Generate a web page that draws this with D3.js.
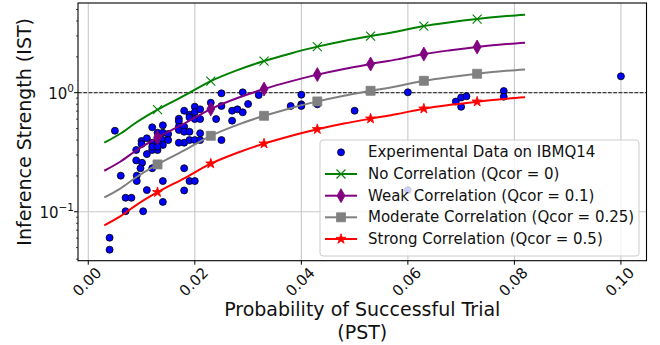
<!DOCTYPE html>
<html><head><meta charset="utf-8">
<script src="https://cdn.jsdelivr.net/npm/d3@7"></script>
<style>body{margin:0;background:#fff;} svg{display:block;font-family:"DejaVu Sans",sans-serif;}</style>
</head><body><svg id="c" width="660" height="345"></svg>
<script>
// Experimental data (PST, IST)
const expX = [0.0050,0.0061,0.0070,0.0081,0.0070,0.0103,0.0091,0.0091,0.0090,0.0101,0.0098,0.0090,0.0100,0.0100,0.0110,0.0110,0.0110,0.0120,0.0120,0.0120,0.0130,0.0120,0.0130,0.0140,0.0140,0.0150,0.0140,0.0150,0.0140,0.0130,0.0140,0.0140,0.0170,0.0170,0.0170,0.0170,0.0180,0.0180,0.0180,0.0180,0.0180,0.0190,0.0190,0.0190,0.0190,0.0170,0.0190,0.0200,0.0180,0.0200,0.0200,0.0200,0.0200,0.0210,0.0210,0.0210,0.0210,0.0230,0.0240,0.0250,0.0250,0.0250,0.0270,0.0280,0.0270,0.0290,0.0290,0.0300,0.0320,0.0380,0.0400,0.0400,0.0400,0.0430,0.0500,0.0600,0.0600,0.0690,0.0700,0.0710,0.0700,0.0780,0.0780,0.1000,0.0040,0.0040,0.0120,0.0130];
const expY = [0.479,0.201,0.131,0.131,0.101,0.101,0.201,0.181,0.270,0.258,0.232,0.330,0.393,0.371,0.414,0.305,0.152,0.512,0.380,0.330,0.330,0.232,0.461,0.461,0.532,0.450,0.400,0.400,0.364,0.380,0.181,0.121,0.605,0.575,0.518,0.486,0.706,0.518,0.470,0.380,0.232,0.653,0.621,0.470,0.400,0.380,0.181,0.181,0.151,0.763,0.688,0.601,0.400,0.725,0.601,0.456,0.400,0.824,0.601,0.988,0.773,0.400,0.706,0.725,0.582,0.684,1.007,0.804,0.956,0.773,0.962,0.799,0.773,0.799,0.706,1.008,0.152,0.843,0.911,0.933,0.761,1.033,0.926,1.373,0.0605,0.048,0.352,0.352];

// Model curves
const curveX = [0.003,0.006,0.009,0.013,0.018,0.023,0.028,0.033,0.038,0.043,0.048,0.053,0.058,0.063,0.068,0.073,0.078,0.082];
const noCorr = [0.380,0.452,0.562,0.721,0.944,1.253,1.549,1.845,2.138,2.438,2.723,2.992,3.273,3.631,3.908,4.159,4.385,4.519];
const weakCorr = [0.221,0.263,0.327,0.420,0.550,0.729,0.902,1.074,1.245,1.419,1.585,1.742,1.905,2.113,2.275,2.421,2.553,2.630];
const modCorr = [0.1318,0.1567,0.1950,0.2500,0.3273,0.4345,0.5370,0.6397,0.7413,0.8453,0.9441,1.0375,1.1350,1.2589,1.3552,1.4421,1.5205,1.5668];
const strongCorr = [0.0769,0.0914,0.1138,0.1459,0.1910,0.2535,0.3133,0.3733,0.4325,0.4932,0.5508,0.6053,0.6622,0.7345,0.7907,0.8414,0.8872,0.9141];
const markerX = [0.013,0.023,0.033,0.043,0.053,0.063,0.073];

const seriesNames = ["No Correlation (Qcor = 0)","Weak Correlation (Qcor = 0.1)","Moderate Correlation (Qcor = 0.25)","Strong Correlation (Qcor = 0.5)"];
const expName = "Experimental Data on IBMQ14";
const xTicks = [0,0.02,0.04,0.06,0.08,0.10];
const xTickLabels = ["0.00","0.02","0.04","0.06","0.08","0.10"];
const yTicks = [0.1,1];
const yTickExp = ["\u22121","0"];
const xLabel = ["Probability of Successful Trial","(PST)"];
const yLabel = "Inference Strength (IST)";

const L=78, R=646.5, T=3, B=260.7;
const TXT = "#111";
const svg = d3.select("#c");
const x = d3.scaleLinear().domain([-0.00193,0.1048]).range([L,R]);
const y = d3.scaleLog().domain([0.0388,5.67]).range([B,T]);

svg.append("defs").append("clipPath").attr("id","clip").append("rect")
  .attr("x",L).attr("y",T).attr("width",R-L).attr("height",B-T);

// grid
const grid = svg.append("g").attr("stroke","#c8c8c8").attr("stroke-width",1.1);
xTicks.forEach(t=>grid.append("line").attr("x1",x(t)).attr("x2",x(t)).attr("y1",T).attr("y2",B));
yTicks.forEach(t=>grid.append("line").attr("x1",L).attr("x2",R).attr("y1",y(t)).attr("y2",y(t)));

// dashed reference line at IST = 1
svg.append("line").attr("x1",L).attr("x2",R).attr("y1",y(1)).attr("y2",y(1))
  .attr("stroke","#000").attr("stroke-width",0.9).attr("stroke-dasharray","3.7,1.6");

const plot = svg.append("g").attr("clip-path","url(#clip)");

// scatter
plot.selectAll("circle.exp").data(expX.map((d,i)=>[d,expY[i]])).join("circle")
  .attr("class","exp").attr("cx",d=>x(d[0])).attr("cy",d=>y(d[1])).attr("r",3.5)
  .attr("fill","#0000ff").attr("stroke","#000").attr("stroke-width",0.8);

const markers = {
  x: "M-4.5,-4.5L4.5,4.5M-4.5,4.5L4.5,-4.5",
  d: "M0,-7L4,0L0,7L-4,0Z",
  s: "M-4.5,-4.5H4.5V4.5H-4.5Z",
  star: d3.symbol(d3.symbolStar, 32)()
};
const series = [
  {vals:noCorr, color:"#008000", m:"x"},
  {vals:weakCorr, color:"#800080", m:"d"},
  {vals:modCorr, color:"#808080", m:"s"},
  {vals:strongCorr, color:"#ff0000", m:"star"}
];
const line = d3.line().x(d=>x(d[0])).y(d=>y(d[1])).curve(d3.curveMonotoneX);
function drawMarker(g, m, color, cx, cy){
  const p = g.append("path").attr("d",markers[m]).attr("transform",`translate(${cx},${cy})`);
  if(m==="x") p.attr("fill","none").attr("stroke",color).attr("stroke-width",1.1);
  else p.attr("fill",color).attr("stroke",color).attr("stroke-width",0.8);
}
series.forEach(s=>{
  const pts = curveX.map((d,i)=>[d,s.vals[i]]);
  plot.append("path").datum(pts).attr("d",line).attr("fill","none")
    .attr("stroke",s.color).attr("stroke-width",2);
  pts.filter(p=>markerX.some(m=>Math.abs(m-p[0])<1e-9)).forEach(p=>drawMarker(plot,s.m,s.color,x(p[0]),y(p[1])));
});

// spines
svg.append("rect").attr("x",L).attr("y",T).attr("width",R-L).attr("height",B-T)
  .attr("fill","none").attr("stroke","#000").attr("stroke-width",1.1);

// x ticks
const xt = svg.append("g");
xTicks.forEach((t,i)=>{
  xt.append("line").attr("x1",x(t)).attr("x2",x(t)).attr("y1",B).attr("y2",B+4).attr("stroke","#000");
  xt.append("text").attr("transform",`translate(${x(t)-1},282) rotate(-45)`)
    .attr("text-anchor","middle").attr("dominant-baseline","central")
    .attr("font-size",15).attr("fill",TXT).text(xTickLabels[i]);
});
// y ticks
const yt = svg.append("g");
const lo = y.domain()[0], hi = y.domain()[1];
for(let e=-2;e<=1;e++){
  for(let k=1;k<=9;k++){
    const v = k*Math.pow(10,e);
    if(v<lo||v>hi) continue;
    const major = k===1;
    yt.append("line").attr("x1",L).attr("x2",L-(major?4:2)).attr("y1",y(v)).attr("y2",y(v))
      .attr("stroke","#000").attr("stroke-width",major?1:0.7);
  }
}
yTicks.forEach((t,i)=>{
  const tx = yt.append("text").attr("x",74).attr("y",y(t)+6).attr("text-anchor","end")
    .attr("font-size",15).attr("fill",TXT);
  tx.append("tspan").text("10");
  tx.append("tspan").attr("font-size",10.5).attr("dy",-6.5).text(yTickExp[i]);
});

// axis labels
svg.append("text").attr("transform",`translate(31,${(T+B)/2}) rotate(-90)`)
  .attr("text-anchor","middle").attr("font-size",19).attr("fill",TXT).text(yLabel);
svg.append("text").attr("x",(L+R)/2).attr("y",316).attr("text-anchor","middle")
  .attr("font-size",19).attr("fill",TXT).text(xLabel[0]);
svg.append("text").attr("x",(L+R)/2).attr("y",338.5).attr("text-anchor","middle")
  .attr("font-size",19).attr("fill",TXT).text(xLabel[1]);

// legend
const lg = svg.append("g");
lg.append("rect").attr("x",320).attr("y",140).attr("width",319).attr("height",116).attr("rx",3)
  .attr("fill","#fff").attr("fill-opacity",0.8).attr("stroke","#cccccc").attr("stroke-width",1);
const rows = [152.3,174,195.7,217.3,239];
lg.append("circle").attr("cx",341).attr("cy",rows[0]).attr("r",3.5)
  .attr("fill","#0000ff").attr("stroke","#000").attr("stroke-width",0.8);
lg.append("text").attr("x",368).attr("y",rows[0]).attr("dominant-baseline","central")
  .attr("font-size",15).attr("fill",TXT).text(expName);
series.forEach((s,i)=>{
  const yy = rows[i+1];
  lg.append("line").attr("x1",325).attr("x2",357).attr("y1",yy).attr("y2",yy)
    .attr("stroke",s.color).attr("stroke-width",2);
  drawMarker(lg,s.m,s.color,341,yy);
  lg.append("text").attr("x",368).attr("y",yy).attr("dominant-baseline","central")
    .attr("font-size",15).attr("fill",TXT).text(seriesNames[i]);
});
</script></body></html>
